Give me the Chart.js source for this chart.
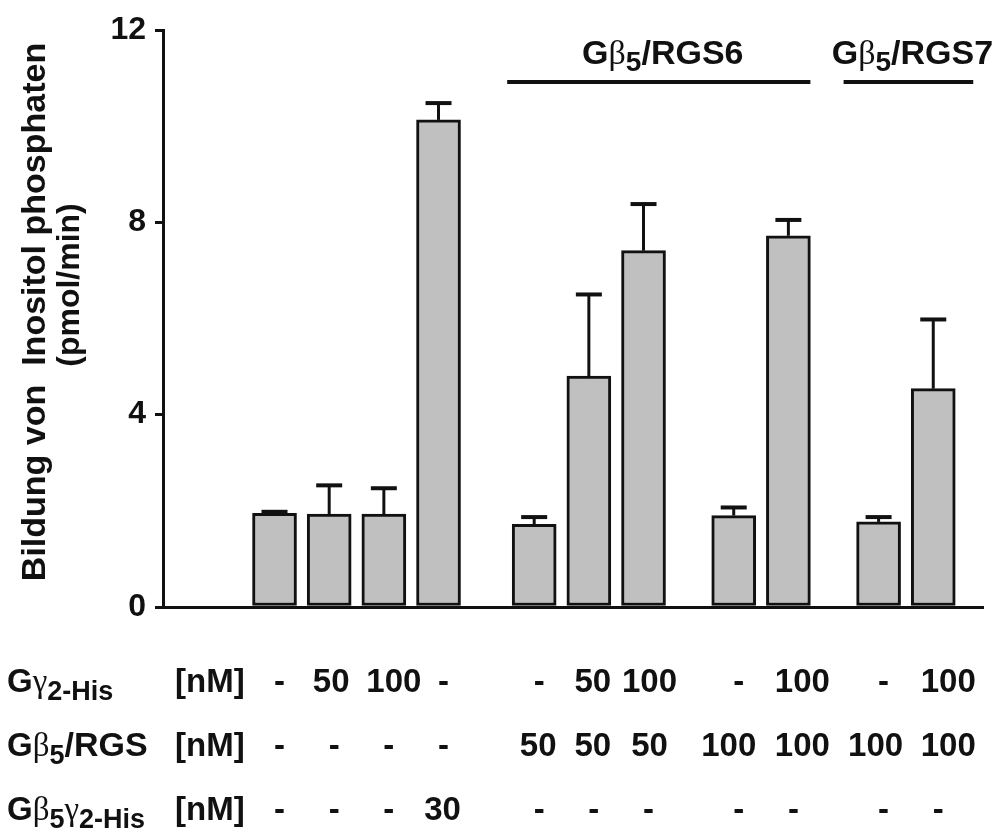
<!DOCTYPE html>
<html>
<head>
<meta charset="utf-8">
<script src="https://cdn.jsdelivr.net/npm/chart.js@4.4.0/dist/chart.umd.min.js"></script>
<style>
  body { margin: 0; background: #fff; }
  canvas { display: block; }
</style>
</head>
<body>
<canvas id="chart" width="996" height="831"></canvas>
<script>
// bar positions along the x axis (slot units) and measured values
const barPos = [2, 3, 4, 5, 6.75, 7.75, 8.75, 10.4, 11.4, 13.05, 14.05]
const values = [1.95, 1.93, 1.93, 10.13, 1.72, 4.80, 7.41, 1.90, 7.72, 1.77, 4.54]
const errors = [0.03, 0.60, 0.54, 0.35, 0.15, 1.70, 0.97, 0.17, 0.33, 0.10, 1.44]
const yTicks = [0, 4, 8, 12]

// concentrations under each bar
const gamma2His = ['-', '50', '100', '-', '-', '50', '100', '-', '100', '-', '100']
const gb5Rgs = ['-', '-', '-', '-', '50', '50', '50', '100', '100', '100', '100']
const gb5g2His = ['-', '-', '-', '30', '-', '-', '-', '-', '-', '-', '-']

// groups over the bars
const groupNames = [['Gβ', '5', '/RGS6'], ['Gβ', '5', '/RGS7']]
const groupFrom = [4, 9]
const groupTo = [8, 10]

const INK = '#111'
const FAM = '"Liberation Sans", Arial, sans-serif'
const SERIF = '"Liberation Serif", "DejaVu Serif", serif'
const bold = s => `bold ${s}px ${FAM}`
const greek = s => `${s}px ${SERIF}`

// the numbers in the table sit a little off the bar centres
const numShift = [5, 2, 10, 4, 4, 4, 6, -5, 14, -3, 15]
// how far each group line reaches past its outer bars
const groupPadL = [27, 35]
const groupPadR = [22, 40]

function drawParts(ctx, parts, x, y, align) {
    let total = 0
    parts.forEach(p => { ctx.font = p[1]; total += ctx.measureText(p[0]).width })
    if (align == 'center') x -= total / 2
    ctx.textAlign = 'left'
    ctx.textBaseline = 'alphabetic'
    parts.forEach(p => {
        ctx.font = p[1]
        ctx.fillText(p[0], x, y + (p[2] || 0))
        x += ctx.measureText(p[0]).width
    })
}

// "Gβ" -> G bold + greek letter in serif
function labelParts(g, size, subSize) {
    return [
        ['G', bold(size)],
        [g[0].slice(1), greek(size)],
        [g[1], bold(subSize), 7],
        [g[2], bold(size)]
    ]
}

const extras = {
    id: 'extras',
    afterDatasetsDraw(chart) {
        const ctx = chart.ctx
        const xs = chart.scales.x
        const ys = chart.scales.y
        ctx.save()
        ctx.strokeStyle = INK
        // error bars (upper only)
        values.forEach((v, i) => {
            const x = xs.getPixelForValue(barPos[i])
            const y0 = ys.getPixelForValue(v)
            const y1 = ys.getPixelForValue(v + errors[i])
            ctx.lineWidth = 3
            ctx.beginPath()
            ctx.moveTo(x, y0)
            ctx.lineTo(x, y1)
            ctx.stroke()
            ctx.lineWidth = 4
            ctx.beginPath()
            ctx.moveTo(x - 13, y1)
            ctx.lineTo(x + 13, y1)
            ctx.stroke()
        })
        ctx.restore()
    },
    afterDraw(chart) {
        const ctx = chart.ctx
        const xs = chart.scales.x
        ctx.save()
        ctx.fillStyle = INK
        ctx.strokeStyle = INK

        // group bars + labels
        groupNames.forEach((g, k) => {
            const x0 = xs.getPixelForValue(barPos[groupFrom[k]]) - groupPadL[k]
            const x1 = xs.getPixelForValue(barPos[groupTo[k]]) + groupPadR[k]
            ctx.lineWidth = 4
            ctx.beginPath()
            ctx.moveTo(x0, 82)
            ctx.lineTo(x1, 82)
            ctx.stroke()
            drawParts(ctx, labelParts(g, 34, 28), (x0 + x1) / 2 + 4, 64, 'center')
        })

        // y axis title
        ctx.save()
        ctx.translate(45, 312)
        ctx.rotate(-Math.PI / 2)
        ctx.textAlign = 'center'
        ctx.font = bold(34)
        ctx.fillText('Bildung von  Inositol phosphaten', 0, 0)
        ctx.restore()
        ctx.save()
        ctx.translate(79, 285)
        ctx.rotate(-Math.PI / 2)
        ctx.textAlign = 'center'
        ctx.font = bold(32)
        ctx.fillText('(pmol/min)', 0, 0)
        ctx.restore()

        // table under the axis
        const rowY = [692, 756, 820]
        const rowLabels = [
            [['G', bold(33)], ['γ', greek(33)], ['2-His', bold(27), 8]],
            [['G', bold(33)], ['β', greek(33)], ['5', bold(27), 8], ['/RGS', bold(34)]],
            [['G', bold(33)], ['β', greek(33)], ['5', bold(27), 8], ['γ', greek(33)], ['2-His', bold(27), 8]]
        ]
        const rows = [gamma2His, gb5Rgs, gb5g2His]
        rows.forEach((row, r) => {
            drawParts(ctx, rowLabels[r], 7, rowY[r])
            drawParts(ctx, [['[nM]', bold(33)]], 175, rowY[r])
            row.forEach((t, i) => {
                const x = xs.getPixelForValue(barPos[i]) + (t == '-' ? 5 : numShift[i])
                drawParts(ctx, [[t, bold(33)]], x, rowY[r], 'center')
            })
        })
        ctx.restore()
    }
}

new Chart(document.getElementById('chart'), {
    type: 'bar',
    data: {
        datasets: [{
            data: barPos.map((x, i) => ({ x: x, y: values[i] })),
            backgroundColor: '#c0c0c0',
            borderColor: INK,
            borderWidth: 3,
            borderSkipped: false,
            barThickness: 44
        }]
    },
    options: {
        responsive: false,
        devicePixelRatio: 1,
        animation: false,
        layout: { padding: { top: 30, right: 13, bottom: 224, left: 0 } },
        plugins: { legend: { display: false }, tooltip: { enabled: false } },
        scales: {
            x: {
                type: 'linear',
                offset: false,
                min: -0.04,
                max: 14.96,
                ticks: { display: false },
                grid: { display: false },
                border: { display: true, color: INK, width: 3 },
                afterFit: s => { s.height = 0 }
            },
            y: {
                min: 0,
                max: 12,
                afterBuildTicks: s => { s.ticks = yTicks.map(v => ({ value: v })) },
                ticks: {
                    color: INK,
                    padding: 9,
                    font: { family: FAM, size: 32, weight: 'bold' }
                },
                grid: { drawOnChartArea: false, drawTicks: true, tickLength: 8, color: INK, lineWidth: 3 },
                border: { display: true, color: INK, width: 3 },
                afterFit: s => { s.width = 163 }
            }
        }
    },
    plugins: [extras]
})
</script>
</body>
</html>
